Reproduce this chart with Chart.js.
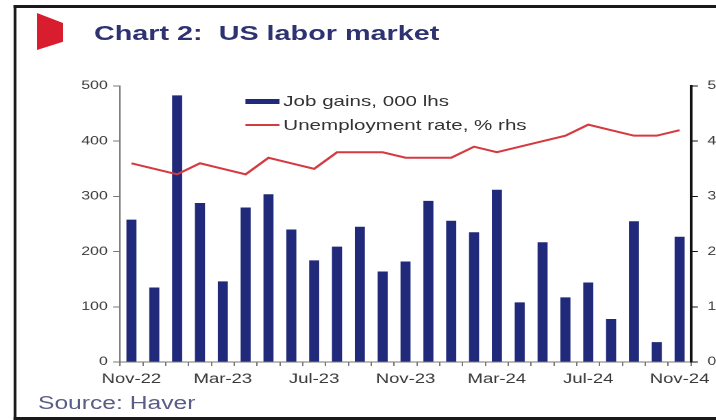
<!DOCTYPE html>
<html>
<head>
<meta charset="utf-8">
<script src="https://cdn.jsdelivr.net/npm/chart.js@4/dist/chart.umd.min.js"></script>
<style>
  html, body { margin: 0; padding: 0; background: #fff; overflow: hidden; width: 716px; height: 420px; }
  /* the source picture is stretched sideways, so the whole page is drawn narrow and scaled in x */
  #page { position: absolute; left: 0; top: 0; width: 522.6px; height: 420px; overflow: hidden;
          transform: scaleX(1.37); transform-origin: 0 0; }
  /* frame is cut off on the right in the source, so no right edge */
  #frame { position: absolute; left: 9.5px; top: 5px; width: 560px; height: 409px;
           border-top: 3px solid #1a1a1a; border-bottom: 3px solid #1a1a1a; border-left: 2px solid #1a1a1a; border-right: none; }
  #logo { position: absolute; left: 27px; top: 13px; width: 19px; height: 37px; background: #d81e2e;
          clip-path: polygon(0 0, 100% 27%, 100% 78%, 0 100%); }
  #title { position: absolute; left: 68.6px; top: 22px; font: bold 21px/21px "Liberation Sans", Arial, sans-serif; color: #2f3270; white-space: pre; }
  #source { position: absolute; left: 27.7px; top: 394px; font: 18px/18px "Liberation Sans", Arial, sans-serif; color: #5a5d85; }
  #chartBox { position: absolute; left: 0; top: 0; width: 540px; height: 400px; }
  #legend { position: absolute; left: 178.8px; top: 89px; font: 15px/24px "Liberation Sans", Arial, sans-serif; color: #333; }
  #legend .item { display: flex; align-items: center; height: 24px; }
  #legend .swatch { width: 25.5px; margin-right: 2.5px; }
</style>
</head>
<body>
<div id="page">
  <div id="frame"></div>
  <div id="logo"></div>
  <div id="title">Chart 2:  US labor market</div>
  <div id="chartBox"><canvas id="laborChart"></canvas></div>
  <div id="legend"></div>
  <div id="source">Source: Haver</div>
</div>

<script>
// months, Nov-22 .. Nov-24
var months = ['Nov-22', 'Dec-22', 'Jan-23', 'Feb-23', 'Mar-23', 'Apr-23', 'May-23', 'Jun-23',
              'Jul-23', 'Aug-23', 'Sep-23', 'Oct-23', 'Nov-23', 'Dec-23', 'Jan-24', 'Feb-24',
              'Mar-24', 'Apr-24', 'May-24', 'Jun-24', 'Jul-24', 'Aug-24', 'Sep-24', 'Oct-24', 'Nov-24'];

// job gains, thousands (left axis)
var jobGains = [258, 135, 483, 288, 146, 280, 304, 240, 184, 209, 245, 164, 182,
                292, 256, 235, 312, 108, 217, 117, 144, 78, 255, 36, 227];

// unemployment rate, % (right axis)
var unemploymentRate = [3.6, 3.5, 3.4, 3.6, 3.5, 3.4, 3.7, 3.6, 3.5, 3.8, 3.8, 3.8, 3.7,
                        3.7, 3.7, 3.9, 3.8, 3.9, 4.0, 4.1, 4.3, 4.2, 4.1, 4.1, 4.2];

var seriesNames = ['Job gains, 000 lhs', 'Unemployment rate, % rhs'];
var leftTicks = [0, 100, 200, 300, 400, 500];
var rightTicks = [0, 1, 2, 3, 4, 5];

var navy = '#20297a';
var red = '#d43a3f';

Chart.defaults.font.family = '"Liberation Sans", Arial, sans-serif';
Chart.defaults.font.size = 13;
Chart.defaults.color = '#3a3a3a';

var ctx = document.getElementById('laborChart').getContext('2d');

var laborChart = new Chart(ctx, {
   type: 'bar',
   data: {
      labels: months,
      datasets: [{
         type: 'line',
         label: seriesNames[1],
         data: unemploymentRate,
         yAxisID: 'yRight',
         borderColor: red,
         backgroundColor: red,
         borderWidth: 2,
         pointRadius: 0,
         tension: 0,
         order: 0
      }, {
         type: 'bar',
         label: seriesNames[0],
         data: jobGains,
         yAxisID: 'yLeft',
         backgroundColor: navy,
         barPercentage: 0.44,
         categoryPercentage: 1,
         order: 1
      }]
   },
   options: {
      responsive: true,
      maintainAspectRatio: false,
      animation: false,
      devicePixelRatio: 2,
      layout: { padding: { top: 86, left: 0, right: 0, bottom: 0 } },
      plugins: {
         legend: { display: false },
         tooltip: { enabled: false }
      },
      scales: {
         x: {
            afterFit: function(axis) { axis.height = 38; },
            border: { color: '#777', width: 1 },
            grid: { drawOnChartArea: false, offset: true, tickLength: 4, color: '#777' },
            ticks: {
               autoSkip: false,
               maxRotation: 0,
               padding: 5,
               font: { size: 13.5 },
               callback: function(value, index) {
                  // only every 4th month is labelled
                  return index % 4 === 0 ? this.getLabelForValue(value) : '';
               }
            }
         },
         yLeft: {
            position: 'left',
            min: 0,
            max: 500,
            afterFit: function(axis) { axis.width = 87.6; },
            afterBuildTicks: function(axis) {
               axis.ticks = leftTicks.map(function(v) { return { value: v }; });
            },
            border: { color: '#777', width: 1 },
            grid: { drawOnChartArea: false, tickLength: 5, color: '#777' },
            ticks: { padding: 4, font: { size: 11.5 } }
         },
         yRight: {
            position: 'right',
            min: 0,
            max: 5,
            afterFit: function(axis) { axis.width = 540 - 504.4; },
            afterBuildTicks: function(axis) {
               axis.ticks = rightTicks.map(function(v) { return { value: v }; });
            },
            border: { color: '#111', width: 2 },
            grid: { drawOnChartArea: false, tickLength: 5, color: '#111' },
            ticks: { padding: 7, font: { size: 11.5 } }
         }
      }
   }
});

// HTML legend, built from the chart's datasets (bar first, then line)
var legendBox = document.getElementById('legend');
[1, 0].forEach(function(i) {
   var ds = laborChart.data.datasets[i];
   var row = document.createElement('div');
   row.className = 'item';
   var swatch = document.createElement('span');
   swatch.className = 'swatch';
   swatch.style.height = ds.type === 'bar' ? '5px' : '2px';
   swatch.style.background = ds.type === 'bar' ? ds.backgroundColor : ds.borderColor;
   var text = document.createElement('span');
   text.textContent = ds.label;
   row.appendChild(swatch);
   row.appendChild(text);
   legendBox.appendChild(row);
});
</script>
</body>
</html>
